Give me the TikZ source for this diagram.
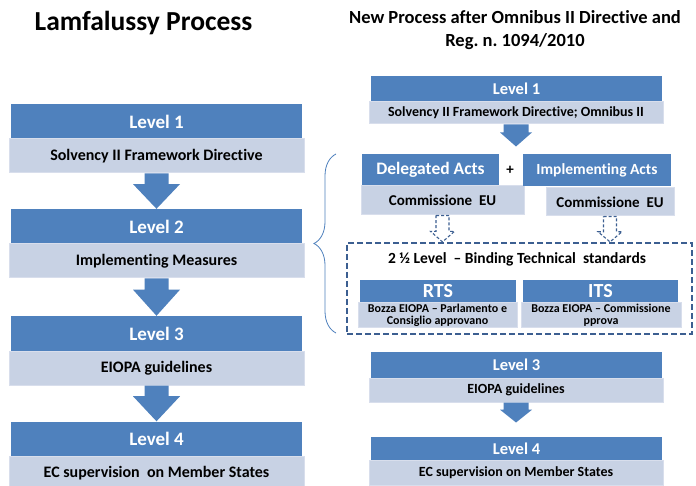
\documentclass[tikz,border=0pt]{standalone}
\usepackage{fontspec}
\setmainfont{Carlito}[Ligatures=NoCommon]
\usepackage{tikz}
\usetikzlibrary{calc, decorations.pathreplacing}
\definecolor{lvlblue}{RGB}{79,129,189}
\definecolor{lvlgrey}{RGB}{200,210,228}
\definecolor{lvledge}{RGB}{216,222,236}
\definecolor{dashblue}{RGB}{60,95,145}
\newcommand{\fs}[1]{\bfseries\fontsize{#1}{#1}\selectfont}
% fat down arrow: [style]{from}{to}{shaft half}{head half}{head start}
\newcommand{\flowarrow}[6][]{%
  \path[#1] ($(#2)+(-#4,0)$) -- ($(#2)+(#4,0)$)
    -- ($(#2)!#6!(#3)+(#4,0)$) -- ($(#2)!#6!(#3)+(#5,0)$)
    -- (#3) -- ($(#2)!#6!(#3)+(-#5,0)$)
    -- ($(#2)!#6!(#3)+(-#4,0)$) -- cycle;}

\begin{document}
\begin{tikzpicture}[x=1pt, y=-1pt,
  level/.style={fill=lvlblue, text=white, inner sep=0pt, font=\fs{19},
    minimum width=291pt, minimum height=35pt},
  body/.style={fill=lvlgrey, draw=lvledge, line width=1pt, inner sep=0pt,
    font=\fs{16}, align=center, minimum width=295pt, minimum height=34pt},
  title/.style={font=\fs{27.5}, align=center},
  solid arrow/.style={fill=lvlblue},
  hollow arrow/.style={draw=dashblue, line width=1.1pt, dash pattern=on 3pt off 2pt},
  gap/.style={draw=dashblue, line width=2.2pt, dash pattern=on 6pt off 3pt}
]
\useasboundingbox[fill=white] (0,0) rectangle (696,486);

% Titles
\node[title] (lt) at (143.5,23) {Lamfalussy Process};
\node[title, font=\fs{18.5}, text depth=0pt] (rt) at (515,29)
  {New Process after Omnibus II Directive and\\[4.5pt]Reg.\ n.\ 1094/2010};

% Lamfalussy (stacked)
\node[level] (l1a) at (156.5,121.5) {Level 1};
\node[body]  (l1b) at (156.5,156) {Solvency II Framework Directive};
\node[level] (l2a) at (156.5,226.5) {Level 2};
\node[body]  (l2b) at (156.5,261) {Implementing Measures};
\node[level] (l3a) at (156.5,333.5) {Level 3};
\node[body]  (l3b) at (156.5,368) {EIOPA guidelines};
\node[level] (l4a) at (156.5,439) {Level 4};
\node[body]  (l4b) at (156.5,473) {EC supervision\ \ on Member States};

\flowarrow[solid arrow]{l1b.south}{l2a.north}{12}{23.5}{0.3}
\flowarrow[solid arrow]{l2b.south}{l3a.north}{12}{23.5}{0.3}
\flowarrow[solid arrow]{l3b.south}{l4a.north}{12}{23.5}{0.3}

% New process
\node[level, minimum height=26pt, font=\fs{16.5}] (r1a) at (516.5,89) {Level 1};
\node[body, minimum width=294pt, minimum height=22pt, font=\fs{14}] (r1b)
  at (516,113) {Solvency II Framework Directive; Omnibus II};
\coordinate (r1tip) at ($(r1b.south)+(0,22)$);
\flowarrow[solid arrow]{r1b.south}{r1tip}{12.5}{16}{0.36}

\node[level, minimum width=137pt, minimum height=32pt, font=\fs{17.5}] (da)
  at (430.5,170) {Delegated Acts};
\node[body, minimum width=163pt, minimum height=29pt, font=\fs{15}] (dac)
  at (442.5,200.5) {Commissione\ \ EU};
\node[font=\fs{15}] (plus) at (510,170) {+};
\node[level, minimum width=148pt, minimum height=32pt, font=\fs{15.5}] (ia)
  at (597,170) {Implementing Acts};
\node[body, minimum width=128pt, minimum height=28pt, font=\fs{15}] (iac)
  at (610,202) {Commissione\ \ EU};

% 2 1/2 level (dashed)
\node[gap, minimum width=345pt, minimum height=91pt] (bts) at (519.5,288.5) {};
\node[font=\fs{15.5}] (btst) at (517,259)
  {2 ½ Level\ \ – Binding Technical\ \ standards};
\node[level, minimum width=156pt, minimum height=23pt, font=\fs{20}] (rtsa)
  at (438,291.5) {RTS};
\node[body, minimum width=159pt, minimum height=24pt, font=\bfseries\fontsize{12}{12}\selectfont]
  (rtsb) at (437.5,315) {Bozza EIOPA – Parlamento e\\Consiglio approvano};
\node[level, minimum width=155pt, minimum height=23pt, font=\fs{20}] (itsa)
  at (600.5,291.5) {ITS};
\node[body, minimum width=160pt, minimum height=24pt, font=\bfseries\fontsize{12}{12}\selectfont]
  (itsb) at (601,315) {Bozza EIOPA – Commissione\\pprova};

\coordinate (dtip) at (dac.south |- bts.north);
\coordinate (itip) at (iac.south |- bts.north);
\flowarrow[hollow arrow]{dac.south}{dtip}{6.5}{12}{0.6}
\flowarrow[hollow arrow]{iac.south}{itip}{6.5}{12}{0.6}

\node[level, minimum height=26pt, font=\fs{16.5}] (r3a) at (516.5,365) {Level 3};
\node[body, minimum width=294pt, minimum height=24pt, font=\fs{14}] (r3b)
  at (516,390) {EIOPA guidelines};
\coordinate (r3tip) at ($(r3b.south)+(0,20)$);
\flowarrow[solid arrow]{r3b.south}{r3tip}{12.5}{16}{0.36}
\node[level, minimum height=23pt, font=\fs{16.5}] (r4a) at (516.5,448.5) {Level 4};
\node[body, minimum width=294pt, minimum height=25pt, font=\fs{14}] (r4b)
  at (516,472.5) {EC supervision on Member States};

% Brace over level 2
\draw[lvlblue, line width=0.8pt, decorate,
  decoration={brace, amplitude=22pt, aspect=0.5}] (336,333) -- (336,154);

\end{tikzpicture}
\end{document}
